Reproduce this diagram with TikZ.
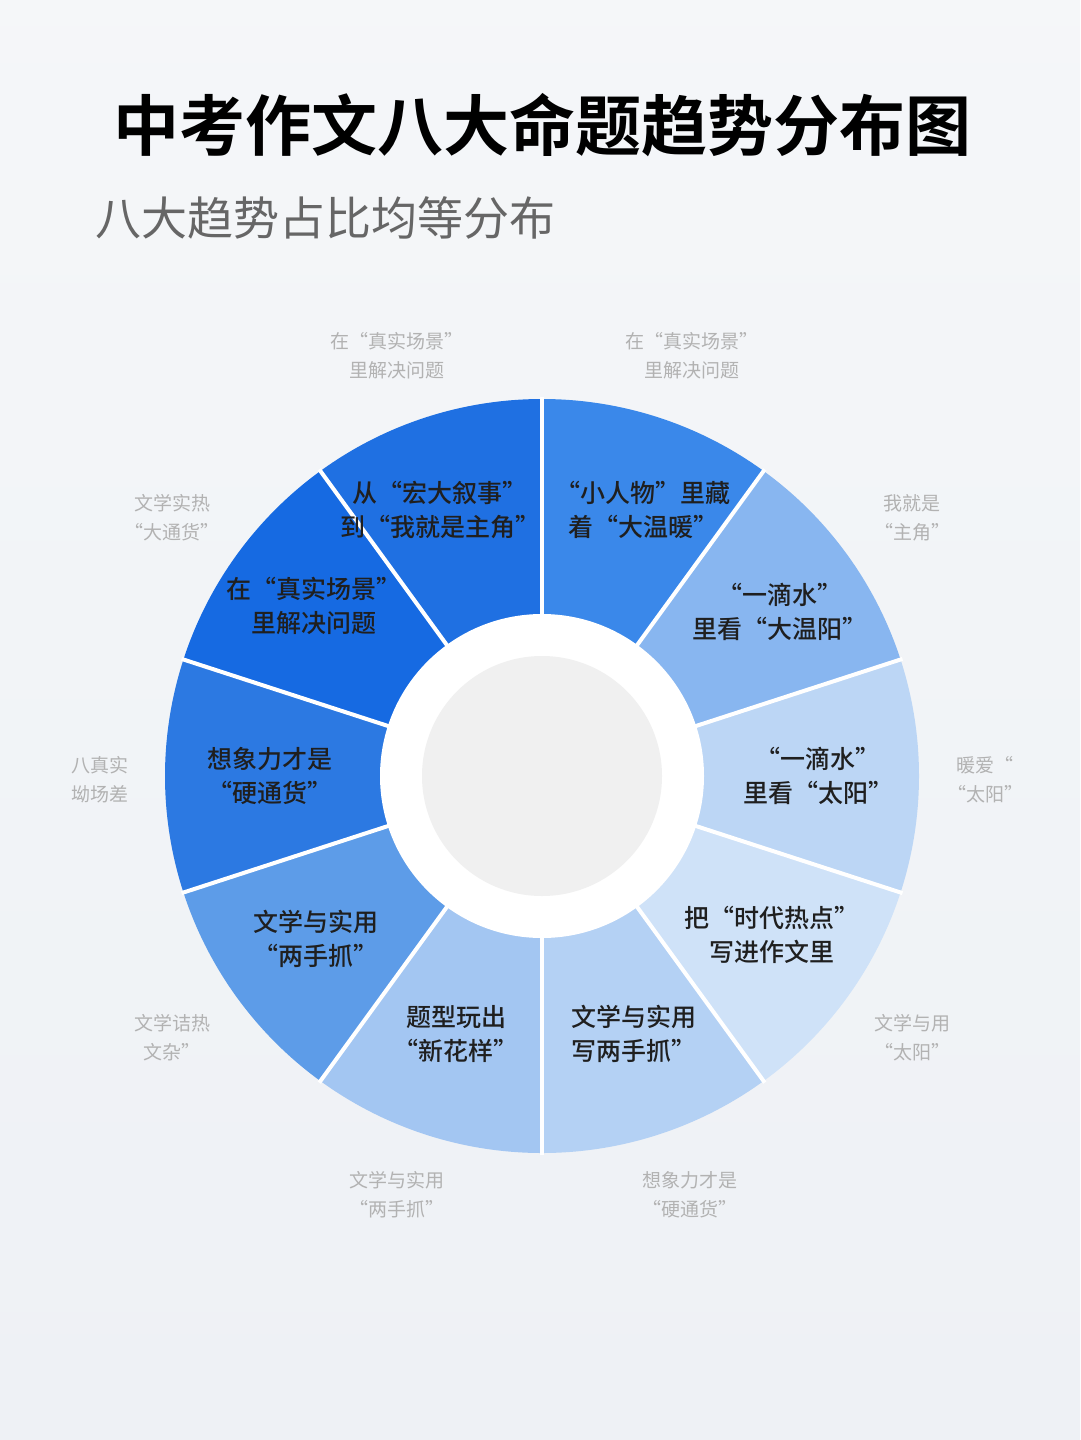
\documentclass[tikz,border=0pt]{standalone}
\usepackage{fontspec}
\setmainfont{Noto Sans CJK SC}[BoldFont={Noto Sans CJK SC Bold}]
\newfontfamily\cjkmed{Noto Sans CJK SC Medium}
\begin{document}
\begin{tikzpicture}[x=1pt,y=-1pt,
  seglab/.style={align=center,font=\cjkmed\fontsize{25}{34}\selectfont,text=black!88},
  outlab/.style={align=center,font=\fontsize{19}{29}\selectfont,text=black!30}]
\definecolor{bgc}{HTML}{EEF1F5}
\definecolor{c1}{HTML}{3A88EA}
\definecolor{c2}{HTML}{88B6F0}
\definecolor{c3}{HTML}{BCD6F5}
\definecolor{c4}{HTML}{CFE2F8}
\definecolor{c5}{HTML}{B4D1F4}
\definecolor{c6}{HTML}{A3C6F2}
\definecolor{c7}{HTML}{5D9CE8}
\definecolor{c8}{HTML}{2C79E2}
\definecolor{c9}{HTML}{166AE2}
\definecolor{c10}{HTML}{1F70E2}
\shade[top color=bgc!60!white,bottom color=bgc] (0,0) rectangle (1080,1440);
\useasboundingbox (0,0) rectangle (1080,1440);
\node[anchor=center,font=\bfseries\fontsize{66}{70}\selectfont] (title) at (542,125) {中考作文八大命题趋势分布图};
\node[anchor=west,font=\fontsize{46}{50}\selectfont,text=black!60] (sub) at (92,218) {八大趋势占比均等分布};
\coordinate (o) at (542,776);
\foreach \i/\c in {4/c1,3/c2,2/c3,1/c4,0/c5,9/c6,8/c7,7/c8,6/c9,5/c10}{
  \pgfmathsetmacro\a{90-36*\i}
  \pgfmathsetmacro\b{54-36*\i}
  \fill[\c] ([shift={(\b:377)}]o) arc[start angle=\b,end angle=\a,radius=377] -- (o) -- cycle;
}
\foreach \i in {0,...,9}{
  \draw[white,line width=4] (o) -- ++({90-36*\i}:379);
}
\fill[white] (o) circle (162);
\fill[gray!12] (o) circle (120);
\node[seglab] (s1) at (643,510) {“小人物”里藏\\着“大温暖”};
\node[seglab] (s2) at (780,612) {“一滴水”\\里看“大温阳”};
\node[seglab] (s3) at (818,776) {“一滴水”\\里看“太阳”};
\node[seglab] (s4) at (772,935) {把“时代热点”\\写进作文里};
\node[seglab] (s5) at (634,1034) {文学与实用\\写两手抓”};
\node[seglab] (s6) at (456,1034) {题型玩出\\“新花样”};
\node[seglab] (s7) at (316,939) {文学与实用\\“两手抓”};
\node[seglab] (s8) at (270,776) {想象力才是\\“硬通货”};
\node[seglab] (s9) at (314,606) {在“真实场景”\\里解决问题};
\node[seglab] (s10) at (440,510) {从“宏大叙事”\\到“我就是主角”};
\node[outlab] (o1) at (397,356) {在“真实场景”\\里解决问题};
\node[outlab] (o2) at (692,356) {在“真实场景”\\里解决问题};
\node[outlab] (o3) at (172,518) {文学实热\\“大通货”};
\node[outlab] (o4) at (912,518) {我就是\\“主角”};
\node[outlab] (o5) at (100,780) {八真实\\坳场差};
\node[outlab] (o6) at (985,780) {暖爱“\\“太阳”};
\node[outlab] (o7) at (172,1038) {文学诘热\\文杂”};
\node[outlab] (o8) at (912,1038) {文学与用\\“太阳”};
\node[outlab] (o9) at (397,1195) {文学与实用\\“两手抓”};
\node[outlab] (o10) at (690,1195) {想象力才是\\“硬通货”};
\end{tikzpicture}
\end{document}
